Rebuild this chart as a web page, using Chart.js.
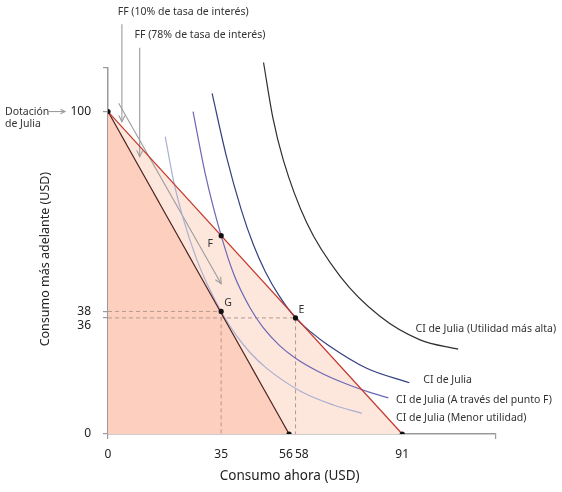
<!DOCTYPE html>
<html lang="es">
<head>
<meta charset="utf-8">
<title>Consumo ahora y más adelante</title>
<script src="https://cdn.jsdelivr.net/npm/chart.js@4.4.1/dist/chart.umd.min.js"></script>
<style>
  html, body { margin: 0; padding: 0; background: #fff; }
  #wrap { width: 562px; height: 492px; }
</style>
</head>
<body>
<div id="wrap"><canvas id="chart" width="562" height="492"></canvas></div>
<script>
// axis ticks
const xTickValues = [0, 35, 56, 58, 91];
const yTickValues = [0, 36, 38, 100];
const xAxisMax = 120;
const yAxisMax = 113.5;

// budget lines (FF)
const ff10X = [0, 91];
const ff10Y = [100, 0];
const ff78X = [0, 56];
const ff78Y = [100, 0];

// marked points: endowment, F, G, E, intercepts
const pointX = [0, 35, 35, 58, 56, 91];
const pointY = [100, 61.5, 38, 36, 0, 0];

// indifference curves
const ciHighX = [48.1, 51, 54.2, 61.5, 71.8, 84.1, 96.5, 108.3];
const ciHighY = [115.2, 98, 85.0, 65.4, 48.9, 36.5, 29.2, 26.3];
const ciMidX = [32.2, 36.6, 41.2, 45, 48.7, 52.9, 58, 62.8, 67.9, 80, 93.2];
const ciMidY = [105.6, 86.2, 69.6, 58.6, 50.25, 42.9, 36, 31.6, 27.7, 20.4, 15.9];
const ciFX = [26.3, 30.1, 35, 39, 44, 48, 53, 58, 65, 73, 81, 86.7];
const ciFY = [100, 80.6, 61.5, 49.3, 39.0, 33.0, 27.5, 23.5, 19.4, 15.8, 12.9, 11.2];
const ciLowX = [17.7, 20.3, 23.4, 27.5, 31, 35, 39.5, 44, 49.1, 59.4, 69.7, 78.5];
const ciLowY = [92.2, 78.4, 66.3, 54.0, 45.8, 38, 30.8, 25.2, 20.35, 13.35, 9.0, 6.4];

// arrows (start, end)
const moveArrowX = [3.3, 35.0];
const moveArrowY = [102.6, 46.6];
const ff10ArrowX = [4.3, 4.3];
const ff10ArrowY = [127.1, 96.8];
const ff78ArrowX = [9.8, 9.8];
const ff78ArrowY = [119.8, 86.0];

const xy = (xs, ys) => xs.map((x, i) => ({ x: x, y: ys[i] }));

const FONT = '"Noto Sans", "Open Sans", sans-serif';
const AXIS_GRAY = '#9a9a9a';
const ARROW_GRAY = '#9c9c9c';

// text notes, placed in data units (or pixel offsets from a point)
const notes = [
  { text: 'FF (10% de tasa de interés)', x: 3.0, y: 130.8 },
  { text: 'FF (78% de tasa de interés)', x: 8.2, y: 123.6 },
  { text: 'CI de Julia (Utilidad más alta)', x: 95.1, y: 32.7 },
  { text: 'CI de Julia', x: 97.5, y: 16.8 },
  { text: 'CI de Julia (A través del punto F)', x: 89.1, y: 10.6 },
  { text: 'CI de Julia (Menor utilidad)', x: 89.1, y: 5.1 }
];
const pointNotes = [
  { text: 'F', idx: 1, dx: -11, dy: 8 },
  { text: 'G', idx: 2, dx: 7, dy: -8 },
  { text: 'E', idx: 3, dx: 6, dy: -8 }
];

function chevron(ctx, x1, y1, x2, y2, size) {
  const a = Math.atan2(y2 - y1, x2 - x1);
  ctx.beginPath();
  ctx.moveTo(x2 - size * Math.cos(a - 0.45), y2 - size * Math.sin(a - 0.45));
  ctx.lineTo(x2, y2);
  ctx.lineTo(x2 - size * Math.cos(a + 0.45), y2 - size * Math.sin(a + 0.45));
  ctx.stroke();
}

const annotate = {
  id: 'annotate',
  afterDatasetsDraw(chart) {
    const ctx = chart.ctx;
    const xs = chart.scales.x;
    const ys = chart.scales.y;
    ctx.save();

    // arrowheads
    ctx.strokeStyle = ARROW_GRAY;
    ctx.lineWidth = 1.1;
    chart.data.datasets.forEach(ds => {
      if (!ds.arrow) return;
      const n = ds.data.length;
      const a = ds.data[n - 2], b = ds.data[n - 1];
      chevron(ctx, xs.getPixelForValue(a.x), ys.getPixelForValue(a.y),
        xs.getPixelForValue(b.x), ys.getPixelForValue(b.y), 7);
    });

    // endowment note left of the axis
    const y100 = ys.getPixelForValue(100);
    ctx.fillStyle = '#333';
    ctx.font = '10.5px ' + FONT;
    ctx.textAlign = 'left';
    ctx.textBaseline = 'middle';
    ctx.fillText('Dotación', 5, y100);
    ctx.fillText('de Julia', 5, y100 + 12);
    ctx.beginPath();
    ctx.moveTo(48, y100);
    ctx.lineTo(65, y100);
    ctx.stroke();
    chevron(ctx, 48, y100, 65, y100, 5);

    // curve and line notes
    notes.forEach(n => {
      ctx.fillText(n.text, xs.getPixelForValue(n.x), ys.getPixelForValue(n.y));
    });

    // point letters
    ctx.textAlign = 'center';
    pointNotes.forEach(n => {
      const px = xs.getPixelForValue(pointX[n.idx]) + n.dx;
      const py = ys.getPixelForValue(pointY[n.idx]) + n.dy;
      ctx.fillText(n.text, px, py);
    });
    ctx.restore();
  }
};

const line = (data, color, extra) => Object.assign({
  data: data,
  showLine: true,
  borderColor: color,
  borderWidth: 1.2,
  pointRadius: 0,
  fill: false,
  clip: false
}, extra || {});

// nudge crowded tick labels apart the way the original does
const xLabel = v => {
  if (v === xAxisMax) return '';
  if (v === 56) return '56  ';
  if (v === 58) return '    58';
  return String(v);
};
const yLabel = v => {
  if (v === yAxisMax) return '';
  if (v === 36) return ['', '36'];
  return String(v);
};

new Chart(document.getElementById('chart'), {
  type: 'scatter',
  data: {
    datasets: [
      { data: xy(pointX, pointY), pointRadius: 2.6, pointBackgroundColor: '#111', pointBorderWidth: 0, showLine: false },
      line(xy(ff10X, ff10Y), '#c4372c'),
      line(xy(ff78X, ff78Y), '#4b1f1b'),
      line(xy(ciHighX, ciHighY), '#2f2f2f', { cubicInterpolationMode: 'monotone' }),
      line(xy(ciMidX, ciMidY), '#34417f', { cubicInterpolationMode: 'monotone' }),
      line(xy(ciFX, ciFY), '#6b68b6', { cubicInterpolationMode: 'monotone' }),
      line(xy(ciLowX, ciLowY), '#aab0d0', { cubicInterpolationMode: 'monotone' }),
      line(xy(moveArrowX, moveArrowY), ARROW_GRAY, { arrow: true, borderWidth: 1.1 }),
      line(xy(ff10ArrowX, ff10ArrowY), ARROW_GRAY, { arrow: true, borderWidth: 1.1 }),
      line(xy(ff78ArrowX, ff78ArrowY), ARROW_GRAY, { arrow: true, borderWidth: 1.1 }),
      line(xy([0, pointX[2], pointX[2]], [pointY[2], pointY[2], 0]), '#b39a90', { borderDash: [4, 3], borderWidth: 1 }),
      line(xy([0, pointX[3], pointX[3]], [pointY[3], pointY[3], 0]), '#b39a90', { borderDash: [4, 3], borderWidth: 1 }),
      line(xy(ff78X, ff78Y), 'rgba(0,0,0,0)', { fill: 'origin', backgroundColor: '#fccfbf', borderWidth: 0 }),
      line(xy(ff10X, ff10Y), 'rgba(0,0,0,0)', { fill: 'origin', backgroundColor: '#fde6dc', borderWidth: 0 })
    ]
  },
  options: {
    responsive: false,
    animation: false,
    layout: { padding: { left: 0, right: 66, top: 68, bottom: 0 } },
    plugins: { legend: { display: false }, tooltip: { enabled: false } },
    scales: {
      x: {
        type: 'linear',
        min: 0,
        max: xAxisMax,
        afterBuildTicks: s => { s.ticks = xTickValues.concat([xAxisMax]).map(v => ({ value: v })); },
        afterFit: s => { s.height = 58; },
        ticks: {
          autoSkip: false,
          maxRotation: 0,
          padding: 8,
          color: '#222',
          font: { family: FONT, size: 12 },
          callback: xLabel
        },
        grid: {
          drawOnChartArea: false,
          tickLength: 5,
          lineWidth: 1.2,
          color: c => (c.tick && (c.tick.value === 0 || c.tick.value === xAxisMax) ? AXIS_GRAY : 'rgba(0,0,0,0)')
        },
        border: { display: true, color: AXIS_GRAY, width: 1.5 },
        title: {
          display: true,
          text: 'Consumo ahora (USD)       ',
          color: '#222',
          font: { family: FONT, size: 13.5 },
          padding: { top: 0, bottom: 8 }
        }
      },
      y: {
        type: 'linear',
        min: 0,
        max: yAxisMax,
        afterBuildTicks: s => { s.ticks = yTickValues.concat([yAxisMax]).map(v => ({ value: v })); },
        afterFit: s => { s.width = 108; },
        ticks: {
          autoSkip: false,
          padding: 12,
          color: '#222',
          font: { family: FONT, size: 12 },
          callback: yLabel
        },
        grid: { drawOnChartArea: false, tickLength: 5, lineWidth: 1.2, color: AXIS_GRAY },
        border: { display: true, color: AXIS_GRAY, width: 1.5 },
        title: {
          display: true,
          text: 'Consumo más adelante (USD)     ',
          color: '#222',
          font: { family: FONT, size: 12.5 },
          padding: { top: 38, bottom: 0 }
        }
      }
    }
  },
  plugins: [annotate]
});
</script>
</body>
</html>
